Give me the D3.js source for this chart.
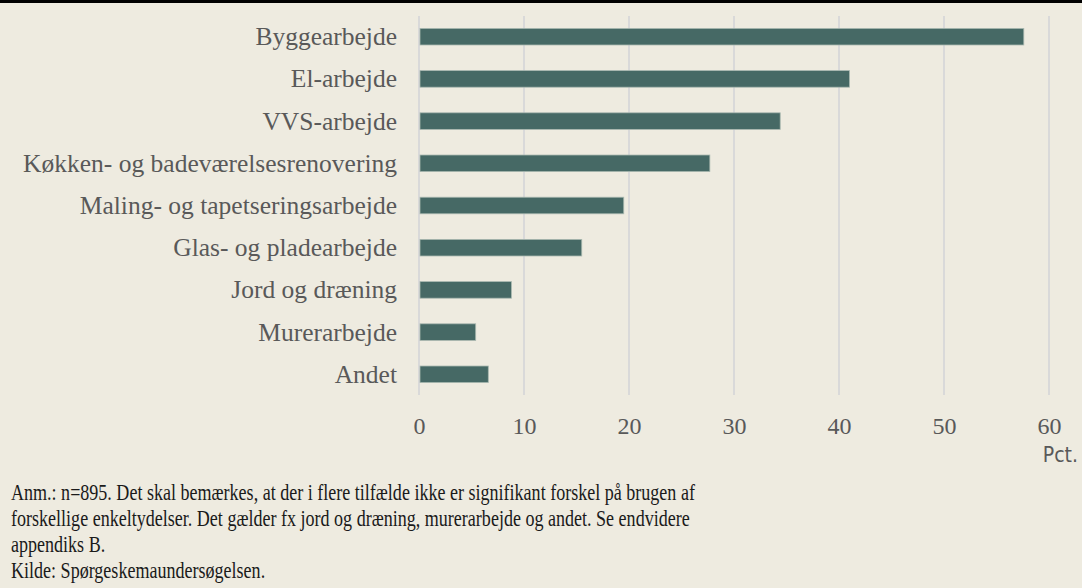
<!DOCTYPE html>
<html><head><meta charset="utf-8">
<script src="https://cdn.jsdelivr.net/npm/d3@7"></script>
<style>
html,body{margin:0;padding:0;background:#EEEBE0;}
svg{display:block;}
</style></head>
<body>
<svg id="chart" width="1082" height="588"></svg>
<script>
const categories = ["Byggearbejde","El-arbejde","VVS-arbejde","Køkken- og badeværelsesrenovering","Maling- og tapetseringsarbejde","Glas- og pladearbejde","Jord og dræning","Murerarbejde","Andet"];
const values = [57.6, 41.0, 34.4, 27.7, 19.5, 15.5, 8.8, 5.4, 6.6];
const xTicks = [0,10,20,30,40,50,60];
const unitLabel = "Pct.";
const notes = [
  "Anm.: n=895. Det skal bemærkes, at der i flere tilfælde ikke er signifikant forskel på brugen af",
  "forskellige enkeltydelser. Det gælder fx jord og dræning, murerarbejde og andet. Se endvidere",
  "appendiks B.",
  "Kilde: Spørgeskemaundersøgelsen."
];

const svg = d3.select("#chart");
svg.append("rect").attr("x",0).attr("y",0).attr("width",1082).attr("height",588).attr("fill","#EEEBE0");
svg.append("rect").attr("x",0).attr("y",0).attr("width",1082).attr("height",3).attr("fill","#000");

const x = d3.scaleLinear().domain([0,60]).range([419,1049]);
const y = d3.scaleBand().domain(categories).range([16,395]).paddingInner(0.607).paddingOuter(0.294);

const serif = "'Liberation Serif', 'DejaVu Serif', serif";

// gridlines
svg.append("g").selectAll("line").data(xTicks).join("line")
  .attr("x1",d=>x(d)).attr("x2",d=>x(d)).attr("y1",16).attr("y2",395)
  .attr("stroke","#D9D9D9").attr("stroke-width",2);

// bars
svg.append("g").selectAll("rect").data(values).join("rect")
  .attr("x",x(0)+1).attr("y",(d,i)=>y(categories[i]))
  .attr("width",d=>x(d)-x(0)-1).attr("height",y.bandwidth())
  .attr("fill","#466965").attr("stroke","#A9B8B0").attr("stroke-width",0.8);

// category labels
const yAxis = d3.axisLeft(y).tickSize(0).tickPadding(0);
const gy = svg.append("g").attr("transform","translate(397,0)").call(yAxis);
gy.select(".domain").remove();
gy.selectAll("text").attr("font-family",serif).attr("font-size",25.5).attr("fill","#595959").attr("dy","0.33em");

// x tick labels
const xAxis = d3.axisBottom(x).tickValues(xTicks).tickSize(0).tickPadding(0).tickFormat(d3.format("d"));
const gx = svg.append("g").attr("transform","translate(0,0)").call(xAxis);
gx.select(".domain").remove();
gx.selectAll("text").attr("font-family",serif).attr("font-size",24).attr("fill","#595959").attr("y",434).attr("dy",null);

svg.append("text").attr("x",1078).attr("y",462).attr("text-anchor","end")
  .attr("font-family","'DejaVu Sans Condensed','DejaVu Sans',sans-serif").attr("font-size",21).attr("fill","#595959").text(unitLabel);

const ng = svg.append("g").attr("transform","translate(11,0) scale(0.785,1)");
ng.selectAll("text").data(notes).join("text")
  .attr("x",0).attr("y",(d,i)=>500+i*26)
  .attr("font-family",serif).attr("font-size",23).attr("fill","#1a1a1a").text(d=>d);
</script>
</body></html>
